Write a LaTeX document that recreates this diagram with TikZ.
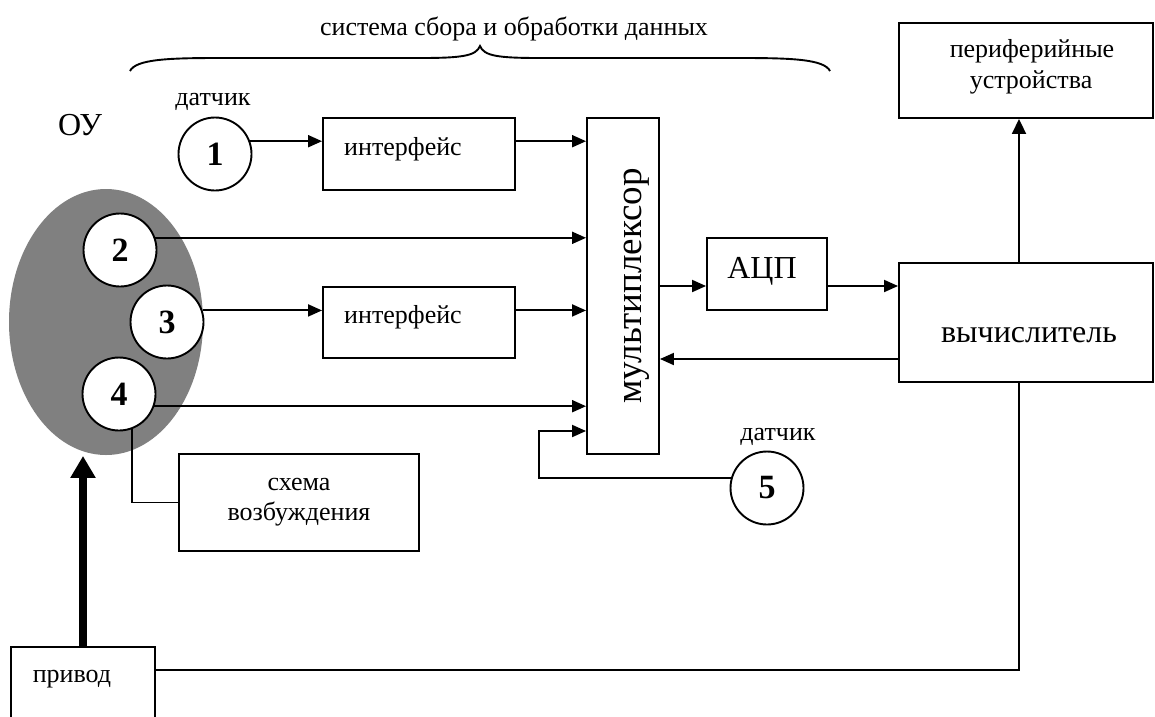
\documentclass[tikz,border=0pt]{standalone}
\usepackage{fontspec}
\setmainfont{Liberation Serif}
\usetikzlibrary{arrows.meta,calc,shapes.geometric}
\begin{document}
\begin{tikzpicture}[x=1pt,y=-1pt,
  line width=1.9pt,
  box/.style={draw,line width=1.9pt,inner sep=0pt,fill=white},
  sensor/.style={draw,circle,fill=white,minimum size=73pt,inner sep=0pt,font=\fontsize{34}{34}\selectfont\bfseries},
  txt/.style={inner sep=0pt,anchor=base,font=\fontsize{26}{30}\selectfont},
  big/.style={inner sep=0pt,anchor=base,font=\fontsize{32}{34}\selectfont},
  arr/.style={-{Triangle[length=14pt,width=12pt]}},
]
\clip (0,0) rectangle (1155,716);
\fill[white] (0,0) rectangle (1155,716);

% title and brace
\node[txt] (title) at (514,35) {система сбора и обработки данных};
\draw[line width=1.9pt] (130,71) .. controls (136,59) and (170,58) .. (220,58) -- (420,58)
  .. controls (462,58) and (476,56) .. (480,46)
  .. controls (484,56) and (498,58) .. (540,58) -- (740,58)
  .. controls (790,58) and (824,59) .. (830,71);

% object
\node[ellipse,fill=black!50,minimum width=194pt,minimum height=266pt,inner sep=0pt] (ou) at (106,322) {};
\node[big] (oulbl) at (80,135) {ОУ};

% sensors
\node[txt] (d1) at (213,105) {датчик};
\node[sensor] (c1) at (215,154) {1};
\node[sensor] (c2) at (120,250) {2};
\node[sensor] (c3) at (167,322) {3};
\node[sensor] (c4) at (119,394) {4};
\node[txt] (d5) at (778,440) {датчик};
\node[sensor] (c5) at (767,488) {5};

% boxes
\node[box,minimum width=192pt,minimum height=72pt] (box1) at (419,154) {};
\node[txt] at (403,155) {интерфейс};
\node[box,minimum width=192pt,minimum height=71pt] (box2) at (419,322.5) {};
\node[txt] at (403,323) {интерфейс};
\node[box,minimum width=72pt,minimum height=336pt] (mux) at (623,286) {};
\node[inner sep=0pt,rotate=90,font=\fontsize{37}{38}\selectfont] (muxt) at (637,286) {мультиплексор};
\node[box,minimum width=120pt,minimum height=72pt] (adc) at (767,274) {};
\node[big] at (762,278) {АЦП};
\node[box,minimum width=254pt,minimum height=119pt] (vych) at (1026,322.5) {};
\node[big] at (1029,342) {вычислитель};
\node[box,minimum width=254pt,minimum height=95pt] (periph) at (1026,70.5) {};
\node[txt] at (1032,57) {периферийные};
\node[txt] at (1031,88) {устройства};
\node[box,minimum width=240pt,minimum height=97pt] (schema) at (299,502.5) {};
\node[txt] at (299,490) {схема};
\node[txt] at (299,520) {возбуждения};
\node[box,minimum width=144pt,minimum height=93pt] (privod) at (83,693.5) {};
\node[txt] at (72,682) {привод};

% connectors
\draw[arr] (c1.20) -- (c1.20 -| box1.west);
\draw[arr] (c1.20 -| box1.east) -- (c1.20 -| mux.west);
\draw[arr] (c2.19.5) -- (c2.19.5 -| mux.west);
\draw[arr] (c3.18) -- (c3.18 -| box2.west);
\draw[arr] (c3.18 -| box2.east) -- (c3.18 -| mux.west);
\draw[arr] (c4.-19.5) -- (c4.-19.5 -| mux.west);
\draw (c4.-70.5) |- (schema.west);
\coordinate (fb) at (539,431);
\draw[arr] (c5.164) -| (fb) -- (fb -| mux.west);
\draw[arr] (mux.east) -- (mux.east -| adc.west);
\draw[arr] (mux.east -| adc.east) -- (mux.east -| vych.west);
\coordinate (fbv) at ($(vych.west)+(0,36.5)$);
\draw[arr] (fbv) -- (fbv -| mux.east);
\coordinate (vt) at ($(vych.north)+(-7,0)$);
\draw[-{Triangle[length=15pt,width=14pt]}] (vt) -- (vt |- periph.south);
\coordinate (vb) at ($(vych.south)+(-7,0)$);
\coordinate (pe) at ($(privod.east)+(0,-23.5)$);
\draw (pe) -| (vb);
\draw[line width=8pt,-{Triangle[length=22pt,width=24pt]}] (privod.north) -- (privod.north |- ou.south);
\end{tikzpicture}
\end{document}
